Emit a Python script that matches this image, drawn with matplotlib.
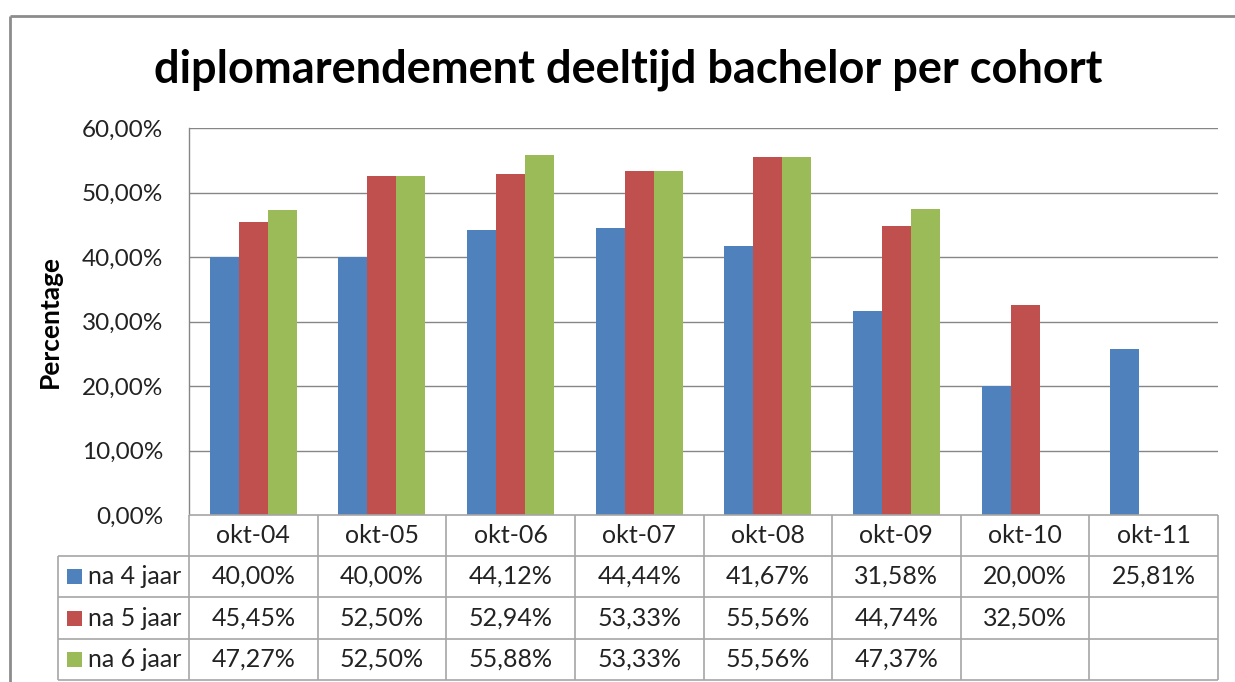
import matplotlib
matplotlib.use("Agg")
import matplotlib.pyplot as plt
import numpy as np
from matplotlib.patches import Rectangle
from matplotlib.lines import Line2D

categories = ["okt-04", "okt-05", "okt-06", "okt-07", "okt-08", "okt-09", "okt-10", "okt-11"]
series_names = ["na 4 jaar", "na 5 jaar", "na 6 jaar"]
na4 = [40.00, 40.00, 44.12, 44.44, 41.67, 31.58, 20.00, 25.81]
na5 = [45.45, 52.50, 52.94, 53.33, 55.56, 44.74, 32.50, None]
na6 = [47.27, 52.50, 55.88, 53.33, 55.56, 47.37, None, None]
yticks = [0, 10, 20, 30, 40, 50, 60]
colors = ["#4F81BD", "#C0504D", "#9BBB59"]

plt.rcParams['font.family'] = ['Lato', 'DejaVu Sans']

W, H = 1235, 682
fig = plt.figure(figsize=(W / 100, H / 100), dpi=100)

def px(x0, y0, x1, y1):
    return [x0 / W, 1 - y1 / H, (x1 - x0) / W, (y1 - y0) / H]

# outer chart border (top and left visible)
border = "#8C8C8C"
fig.add_artist(Line2D([10 / W, 1.0], [1 - 16 / H, 1 - 16 / H], color=border, lw=2,
                      solid_capstyle="butt", transform=fig.transFigure))
fig.add_artist(Line2D([10 / W, 10 / W], [1 - 16 / H, 0], color=border, lw=2,
                      solid_capstyle="butt", transform=fig.transFigure))

fig.text(628 / W, 1 - 70 / H, "diplomarendement deeltijd bachelor per cohort",
         ha="center", va="center", fontsize=32.5, fontweight="bold")

ax = fig.add_axes(px(189, 128, 1218, 515))
n = len(categories)
x = np.arange(n)
bw = 0.2257
data = [na4, na5, na6]
for i, (vals, c) in enumerate(zip(data, colors)):
    xs = [xi + (i - 1) * bw for xi, v in zip(x, vals) if v is not None]
    vs = [v for v in vals if v is not None]
    ax.bar(xs, vs, width=bw, color=c, zorder=3, linewidth=0)

ax.set_xlim(-0.5, n - 0.5)
ax.set_ylim(0, 60)
ax.set_yticks(yticks)
ax.set_yticklabels([f"{t:.2f}%".replace(".", ",") for t in yticks], fontsize=17.5, color="#222222")
ax.tick_params(axis="y", length=0, pad=18.5)
ax.tick_params(axis="x", length=0, labelbottom=False)
grid_c = "#868686"
for t in yticks[1:]:
    ax.axhline(t, color=grid_c, lw=1, zorder=1)
for s in ["top", "right", "bottom"]:
    ax.spines[s].set_visible(False)
ax.spines["left"].set_color(grid_c)
ax.spines["left"].set_linewidth(1)
ax.set_ylabel("Percentage", fontsize=19, fontweight="bold")
ax.yaxis.set_label_coords((62 - 189) / (1218 - 189), 0.5)

# data table
tab = fig.add_axes(px(189, 515, 1218, 680))
tab.set_xlim(-0.5, n - 0.5)
tab.set_ylim(4, 0)
tab.axis("off")
line_c = "#A6A6A6"
unit = (1218 - 189) / n
left_x = -0.5 - (189 - 58) / unit
row_px = [515, 556, 597, 639, 680]
row_edges = [(r - 515) / (680 - 515) * 4 for r in row_px]
kw = dict(color=line_c, lw=1.2, clip_on=False, solid_capstyle="butt")
tab.plot([-0.5, n - 0.5], [row_edges[0]] * 2, **kw)
for r in row_edges[1:]:
    tab.plot([left_x, n - 0.5], [r, r], **kw)
for k in range(n + 1):
    tab.plot([k - 0.5, k - 0.5], [row_edges[0], row_edges[-1]], **kw)
tab.plot([left_x, left_x], [row_edges[1], row_edges[-1]], **kw)

fs = 18
for k, cat in enumerate(categories):
    tab.text(k, (row_edges[0] + row_edges[1]) / 2, cat, ha="center", va="center", fontsize=fs, color="#222222")
for i, (vals, name, c) in enumerate(zip(data, series_names, colors)):
    yc = (row_edges[i + 1] + row_edges[i + 2]) / 2
    for k, v in enumerate(vals):
        if v is not None:
            tab.text(k, yc, f"{v:.2f}%".replace(".", ","), ha="center", va="center", fontsize=fs, color="#222222")
    sq_w = 15 / unit
    sq_h = 15 / (680 - 515) * 4
    tab.add_patch(Rectangle((left_x + 9 / unit, yc - sq_h / 2), sq_w, sq_h,
                            color=c, clip_on=False, lw=0))
    tab.text(left_x + 30 / unit, yc, name, ha="left", va="center", fontsize=fs, color="#222222")

fig.savefig("out.png", dpi=100)
